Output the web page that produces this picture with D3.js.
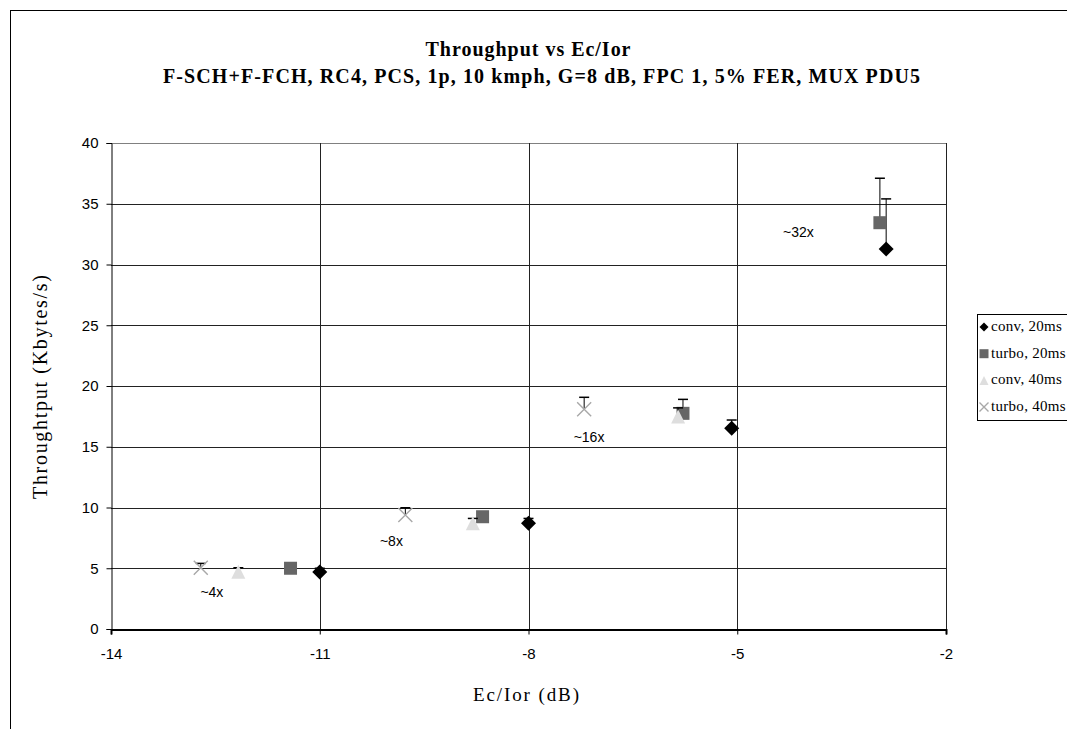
<!DOCTYPE html>
<html><head><meta charset="utf-8">
<script src="https://cdn.jsdelivr.net/npm/d3@7"></script>
<style>body{margin:0;background:#fff;} svg{display:block;}</style>
</head><body>
<svg id="chart" width="1067" height="729"></svg>
<script>
// ---- data ----
const xTicks = [-14, -11, -8, -5, -2];
const yTicks = [0, 5, 10, 15, 20, 25, 30, 35, 40];
const seriesNames = ["conv, 20ms", "turbo, 20ms", "conv, 40ms", "turbo, 40ms"];
const conv20X = [-11, -8, -5.08, -2.86];
const conv20Y = [4.69, 8.7, 16.52, 31.28];
const conv20Err = [5.0, 9.1, 17.2, 35.4];
const turbo20X = [-11.42, -8.66, -5.78, -2.95];
const turbo20Y = [5.0, 9.24, 17.75, 33.44];
const turbo20Err = [5.0, 9.5, 18.9, 37.1];
const conv40X = [-12.17, -8.8, -5.85];
const conv40Y = [4.72, 8.7, 17.5];
const conv40Err = [5.04, 9.1, 18.2];
const turbo40X = [-12.71, -9.77, -7.2];
const turbo40Y = [5.04, 9.38, 18.08];
const turbo40Err = [5.4, 9.98, 19.07];
const annoText = ["~4x", "~8x", "~16x", "~32x"];
const annoX = [-12.55, -9.97, -7.13, -4.12];
const annoY = [3.07, 7.27, 15.78, 32.7];

const svg = d3.select("#chart");
const L = 111, R = 946, T = 143, B = 629;
const x = d3.scaleLinear().domain([-14, -2]).range([L, R]);
const y = d3.scaleLinear().domain([0, 40]).range([B, T]);

// outer border
svg.append("rect").attr("x", 10.5).attr("y", 10.5).attr("width", 1100).attr("height", 800)
  .attr("fill", "none").attr("stroke", "#000").attr("stroke-width", 1);

// titles
const serif = "'Liberation Serif', 'DejaVu Serif', serif";
svg.append("text").attr("x", 528).attr("y", 56).attr("text-anchor", "middle")
  .attr("font-family", serif).attr("font-weight", "bold").attr("font-size", 20)
  .attr("textLength", 205).attr("lengthAdjust", "spacing")
  .text("Throughput vs Ec/Ior");
svg.append("text").attr("x", 541.5).attr("y", 83).attr("text-anchor", "middle")
  .attr("font-family", serif).attr("font-weight", "bold").attr("font-size", 20)
  .attr("textLength", 757).attr("lengthAdjust", "spacing")
  .text("F-SCH+F-FCH, RC4, PCS, 1p, 10 kmph, G=8 dB, FPC 1, 5% FER, MUX PDU5");

// gridlines
const g = svg.append("g");
g.selectAll("line.hg").data(yTicks.filter(d => d > 0)).enter().append("line")
  .attr("x1", L).attr("x2", R).attr("y1", d => Math.round(y(d)) + 0.5).attr("y2", d => Math.round(y(d)) + 0.5)
  .attr("stroke", d => d === 40 ? "#808080" : "#222").attr("stroke-width", 1);
g.selectAll("line.vg").data(xTicks.filter(d => d > -14)).enter().append("line")
  .attr("x1", d => Math.round(x(d)) + 0.5).attr("x2", d => Math.round(x(d)) + 0.5).attr("y1", T).attr("y2", B)
  .attr("stroke", "#222").attr("stroke-width", 1);

// axes
const sans = "'Liberation Sans', Arial, sans-serif";
const yAxis = svg.append("g").attr("transform", `translate(${L + 0.5},0)`)
  .call(d3.axisLeft(y).tickValues(yTicks).tickSize(5).tickPadding(8).tickFormat(d3.format("d")));
const xAxis = svg.append("g").attr("transform", `translate(0,${B + 0.5})`)
  .call(d3.axisBottom(x).tickValues(xTicks).tickSize(5).tickPadding(14).tickFormat(d => "" + d));
[yAxis, xAxis].forEach(a => {
  a.select(".domain").attr("stroke", "#000");
  a.selectAll(".tick line").attr("stroke", "#000");
  a.selectAll(".tick text").attr("font-family", sans).attr("font-size", 15).attr("fill", "#000");
});
xAxis.select(".domain").attr("stroke-width", 2);
xAxis.selectAll(".tick text").text(d => "" + d);

// axis titles
svg.append("text").attr("x", 526).attr("y", 701).attr("text-anchor", "middle")
  .attr("font-family", serif).attr("font-size", 19)
  .attr("textLength", 106).attr("lengthAdjust", "spacing").text("Ec/Ior (dB)");
svg.append("text").attr("transform", "translate(47,387) rotate(-90)").attr("text-anchor", "middle")
  .attr("font-family", serif).attr("font-size", 20)
  .attr("textLength", 224).attr("lengthAdjust", "spacing").text("Throughtput (Kbytes/s)");

// error bars + markers
const series = [
  {X: conv20X, Y: conv20Y, E: conv20Err, shape: "diamond", color: "#000"},
  {X: turbo20X, Y: turbo20Y, E: turbo20Err, shape: "square", color: "#666"},
  {X: conv40X, Y: conv40Y, E: conv40Err, shape: "triangle", color: "#dedede"},
  {X: turbo40X, Y: turbo40Y, E: turbo40Err, shape: "cross", color: "#a8a8a8"}
];
function drawMarker(sel, shape, color, cx, cy, s) {
  if (shape === "diamond") {
    sel.append("path").attr("d", `M${cx},${cy - s}L${cx + s},${cy}L${cx},${cy + s}L${cx - s},${cy}Z`).attr("fill", color);
  } else if (shape === "square") {
    sel.append("rect").attr("x", cx - s).attr("y", cy - s).attr("width", 2 * s).attr("height", 2 * s).attr("fill", color);
  } else if (shape === "triangle") {
    sel.append("path").attr("d", `M${cx},${cy - s}L${cx + s},${cy + s}L${cx - s},${cy + s}Z`).attr("fill", color);
  } else {
    sel.append("path").attr("d", `M${cx - s},${cy - s}L${cx + s},${cy + s}M${cx + s},${cy - s}L${cx - s},${cy + s}`)
      .attr("stroke", color).attr("stroke-width", 1.4).attr("fill", "none");
  }
}
const sizes = {diamond: 7.5, square: 6.5, triangle: 7, cross: 7};
series.forEach(s => {
  const gs = svg.append("g");
  s.X.forEach((xv, i) => {
    const cx = x(xv), cy = y(s.Y[i]), ey = y(s.E[i]);
    if (s.E[i] > s.Y[i]) {
      gs.append("line").attr("x1", cx).attr("x2", cx).attr("y1", cy).attr("y2", ey).attr("stroke", "#000").attr("stroke-width", 1);
      gs.append("line").attr("x1", cx - 5).attr("x2", cx + 5).attr("y1", ey).attr("y2", ey).attr("stroke", "#000").attr("stroke-width", 1.5);
    }
  });
  s.X.forEach((xv, i) => drawMarker(gs, s.shape, s.color, x(xv), y(s.Y[i]), sizes[s.shape]));
});

// annotations
svg.selectAll("text.anno").data(annoText).enter().append("text")
  .attr("x", (d, i) => x(annoX[i])).attr("y", (d, i) => y(annoY[i]) + 5).attr("text-anchor", "middle")
  .attr("font-family", sans).attr("font-size", 14).text(d => d);

// legend
const lg = svg.append("g");
lg.append("rect").attr("x", 977.5).attr("y", 314.5).attr("width", 120).attr("height", 106)
  .attr("fill", "#fff").attr("stroke", "#000").attr("stroke-width", 1);
seriesNames.forEach((n, i) => {
  const ly = 327 + i * 26.7;
  drawMarker(lg, series[i].shape, series[i].color, 984, ly, 4.5);
  lg.append("text").attr("x", 991).attr("y", ly + 4).attr("font-family", serif).attr("font-size", 15)
    .attr("letter-spacing", 0.3).text(n);
});
</script>
</body></html>
